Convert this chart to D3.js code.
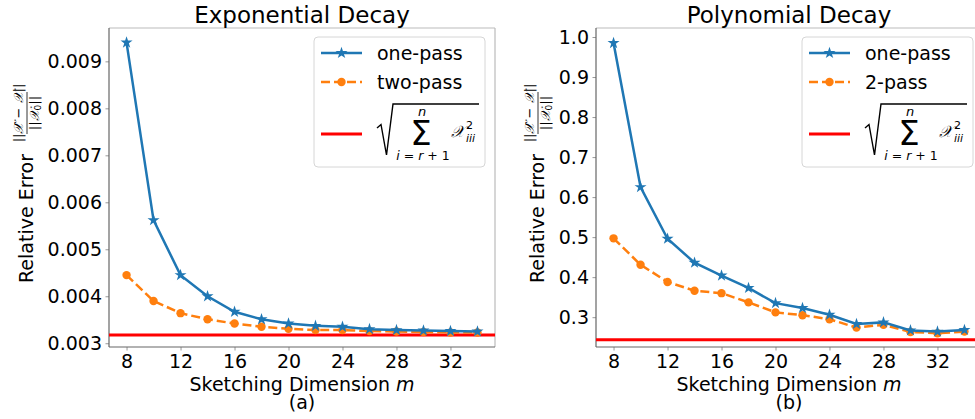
<!DOCTYPE html>
<html><head><meta charset="utf-8">
<script src="https://cdn.jsdelivr.net/npm/d3@7"></script>
<style>
body{margin:0;background:#fff;}
svg text{font-family:"DejaVu Sans",sans-serif;fill:#000;}
</style></head>
<body><svg id="chart" width="975" height="419"></svg>
<script>
const dims = [8,10,12,14,16,18,20,22,24,26,28,30,32,34];
const xTicks = [8,12,16,20,24,28,32];

const expOnePass = [0.0094,0.00562,0.00445,0.0040,0.00367,0.00351,0.00342,0.00337,0.00335,0.00330,0.00328,0.00327,0.00326,0.00325];
const expTwoPass = [0.00445,0.0039,0.00364,0.00351,0.00342,0.00335,0.00331,0.00328,0.00328,0.00326,0.00325,0.00324,0.00323,0.00323];
const expBound = 0.003176;
const expYTicks = [0.003,0.004,0.005,0.006,0.007,0.008,0.009];

const polyOnePass = [0.985,0.625,0.496,0.436,0.404,0.373,0.335,0.323,0.306,0.283,0.287,0.267,0.264,0.268];
const polyTwoPass = [0.497,0.431,0.388,0.366,0.360,0.337,0.312,0.305,0.295,0.274,0.281,0.263,0.260,0.264];
const polyBound = 0.2435;
const polyYTicks = [0.3,0.4,0.5,0.6,0.7,0.8,0.9,1.0];

const svg = d3.select("#chart");
const BLUE="#1f77b4", ORANGE="#ff7f0e", RED="#ff0000";

function panel(opt){
  const {left,right,top,bottom,yDomain,one,two,bound,yTicks,fmt,title,sub,twoLabel,ylabX,legLeft} = opt;
  const g = svg.append("g");
  const x = d3.scaleLinear().domain([6.7,35.3]).range([left,right]);
  const y = d3.scaleLinear().domain(yDomain).range([bottom,top]);
  const clipId = "clip"+left;
  svg.append("clipPath").attr("id",clipId).append("rect")
    .attr("x",left).attr("y",top).attr("width",right-left).attr("height",bottom-top);

  const xa = g.append("g").attr("transform",`translate(0,${bottom})`)
    .call(d3.axisBottom(x).tickValues(xTicks).tickSize(3.5).tickPadding(4).tickFormat(d3.format("d")));
  const ya = g.append("g").attr("transform",`translate(${left},0)`)
    .call(d3.axisLeft(y).tickValues(yTicks).tickSize(3.5).tickPadding(3.5).tickFormat(d3.format(fmt)));
  [xa,ya].forEach(a=>{
    a.selectAll("text").style("font-size","19px").style("font-family","DejaVu Sans");
    a.selectAll(".tick line").attr("stroke","#999");
    a.select(".domain").remove();
  });
  g.append("line").attr("x1",left).attr("x2",right).attr("y1",top).attr("y2",top).attr("stroke","#bbb").attr("stroke-width",1.2);
  g.append("line").attr("x1",right).attr("x2",right).attr("y1",top).attr("y2",bottom).attr("stroke","#bbb").attr("stroke-width",1.2);
  g.append("line").attr("x1",left).attr("x2",right).attr("y1",bottom).attr("y2",bottom).attr("stroke","#666").attr("stroke-width",1.2);
  g.append("line").attr("x1",left).attr("x2",left).attr("y1",top).attr("y2",bottom).attr("stroke","#666").attr("stroke-width",1.2);

  const plot = g.append("g").attr("clip-path",`url(#${clipId})`);
  plot.append("line").attr("x1",left).attr("x2",right).attr("y1",y(bound)).attr("y2",y(bound))
    .attr("stroke",RED).attr("stroke-width",3);
  const line = d3.line().x((d,i)=>x(dims[i])).y(d=>y(d));
  plot.append("path").datum(two).attr("d",line).attr("fill","none").attr("stroke",ORANGE)
    .attr("stroke-width",2.5).attr("stroke-dasharray","9,4");
  plot.selectAll(".dot").data(two).enter().append("circle")
    .attr("cx",(d,i)=>x(dims[i])).attr("cy",d=>y(d)).attr("r",4.2).attr("fill",ORANGE);
  plot.append("path").datum(one).attr("d",line).attr("fill","none").attr("stroke",BLUE).attr("stroke-width",2.5);
  const star = d3.symbol().type(d3.symbolStar).size(45);
  plot.selectAll(".star").data(one).enter().append("path")
    .attr("d",star).attr("transform",(d,i)=>`translate(${x(dims[i])},${y(d)})`).attr("fill",BLUE);

  g.append("text").attr("x",(left+right)/2).attr("y",23).attr("text-anchor","middle")
    .style("font-size","23px").text(title);
  const cx = (left+right)/2;
  const xl = g.append("text").attr("x",cx).attr("y",391).attr("text-anchor","middle").style("font-size","19px");
  xl.append("tspan").text("Sketching Dimension ");
  xl.append("tspan").style("font-style","italic").text("m");
  g.append("text").attr("x",cx).attr("y",409).attr("text-anchor","middle").style("font-size","19px").text(sub);

  const yl = g.append("g").attr("transform",`translate(${ylabX},${(top+bottom)/2}) rotate(-90)`);
  yl.append("text").attr("x",-95.5).attr("y",0).style("font-size","19px").text("Relative Error");
  const fc = 74.5;
  const num = yl.append("text").attr("x",fc).attr("y",-10).attr("text-anchor","middle").style("font-size","13px");
  num.append("tspan").text("||");
  num.append("tspan").style("font-style","italic").style("font-family","DejaVu Serif").text("𝒳\u0302");
  num.append("tspan").text(" − ");
  num.append("tspan").style("font-style","italic").style("font-family","DejaVu Serif").text("𝒳");
  num.append("tspan").text("||");
  yl.append("line").attr("x1",fc-21).attr("x2",fc+21).attr("y1",-6).attr("y2",-6).attr("stroke","#000").attr("stroke-width",0.8);
  const den = yl.append("text").attr("x",fc).attr("y",6).attr("text-anchor","middle").style("font-size","13px");
  den.append("tspan").text("||");
  den.append("tspan").style("font-style","italic").style("font-family","DejaVu Serif").text("𝒳");
  den.append("tspan").style("font-size","9px").attr("dy",2).text("0");
  den.append("tspan").attr("dy",-2).text("||");

  const L = svg.append("g").attr("transform",`translate(${legLeft},0)`);
  L.append("rect").attr("x",0).attr("y",37).attr("width",171).attr("height",130).attr("rx",4)
    .attr("fill","#fff").attr("fill-opacity",0.85).attr("stroke","#d6d6d6").attr("stroke-width",1);
  L.append("line").attr("x1",7).attr("x2",48).attr("y1",53).attr("y2",53).attr("stroke",BLUE).attr("stroke-width",2.5);
  L.append("path").attr("d",star).attr("transform","translate(27.5,53)").attr("fill",BLUE);
  L.append("text").attr("x",63).attr("y",59.5).style("font-size","19px").text("one-pass");
  L.append("line").attr("x1",7).attr("x2",48).attr("y1",82).attr("y2",82).attr("stroke",ORANGE)
    .attr("stroke-width",2.5).attr("stroke-dasharray","9,4");
  L.append("circle").attr("cx",27.5).attr("cy",82).attr("r",4.2).attr("fill",ORANGE);
  L.append("text").attr("x",63).attr("y",88.5).style("font-size","19px").text(twoLabel);
  L.append("line").attr("x1",7).attr("x2",48).attr("y1",134).attr("y2",134).attr("stroke",RED).attr("stroke-width",3);
  L.append("path").attr("d","M63 128 L67 124.5 L72.5 155 L79 104 L165 104").attr("fill","none")
    .attr("stroke","#000").attr("stroke-width",1.4).attr("stroke-linejoin","miter");
  L.append("text").attr("x",107).attr("y",145).attr("text-anchor","middle").style("font-size","34px").text("Σ");
  L.append("text").attr("x",108).attr("y",116).attr("text-anchor","middle").style("font-size","13px").style("font-style","italic").text("n");
  const lo = L.append("text").attr("x",109).attr("y",160).attr("text-anchor","middle").style("font-size","12.5px");
  lo.append("tspan").style("font-style","italic").text("i");
  lo.append("tspan").text(" = ");
  lo.append("tspan").style("font-style","italic").text("r");
  lo.append("tspan").text(" + 1");
  L.append("text").attr("x",137).attr("y",137).style("font-size","16px").style("font-style","italic")
    .style("font-family","DejaVu Serif").text("𝒳");
  L.append("text").attr("x",152).attr("y",129).style("font-size","11px").text("2");
  L.append("text").attr("x",152).attr("y",142).style("font-size","11px").style("font-style","italic").text("iii");
}

panel({left:109,right:495,top:28,bottom:347,yDomain:[0.00292,0.00971],one:expOnePass,two:expTwoPass,
  bound:expBound,yTicks:expYTicks,fmt:".3f",title:"Exponential Decay",sub:"(a)",twoLabel:"two-pass",ylabX:33,legLeft:314});
panel({left:596,right:982,top:28,bottom:347,yDomain:[0.2255,1.0225],one:polyOnePass,two:polyTwoPass,
  bound:polyBound,yTicks:polyYTicks,fmt:".1f",title:"Polynomial Decay",sub:"(b)",twoLabel:"2-pass",ylabX:544,legLeft:802});
</script></body></html>
